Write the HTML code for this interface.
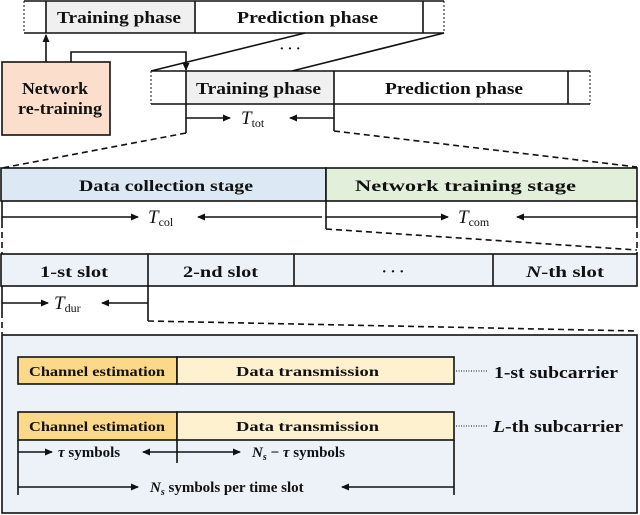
<!DOCTYPE html>
<html><head><meta charset="utf-8"><style>
html,body{margin:0;padding:0;background:#fff;}
svg{display:block;}
text{font-family:"Liberation Serif",serif;font-weight:bold;fill:#111;}
.it{font-style:italic;font-weight:normal;}
</style></head><body>
<svg width="640" height="515" viewBox="0 0 640 515" xmlns="http://www.w3.org/2000/svg">
<defs>
<marker id="a" markerWidth="8" markerHeight="8" refX="7" refY="4" orient="auto" markerUnits="userSpaceOnUse">
<path d="M0,0.5 L8,4 L0,7.5 Z" fill="#111"/></marker>
</defs>
<g stroke="#111" stroke-width="1.6" fill="none">
<rect x="46" y="1" width="149" height="32" fill="#f0f0f0" stroke="none"/>
<line x1="24" y1="1" x2="444" y2="1"/>
<line x1="24" y1="33" x2="444" y2="33"/>
<line x1="24" y1="1" x2="24" y2="33" stroke-dasharray="2,2" stroke-width="1"/>
<line x1="444" y1="1" x2="444" y2="33" stroke-dasharray="2,2" stroke-width="1"/>
<line x1="46" y1="1" x2="46" y2="33"/>
<line x1="195" y1="1" x2="195" y2="33"/>
<line x1="423" y1="1" x2="423" y2="33"/>
<rect x="2" y="62" width="108" height="73" fill="#fbdfcc"/>
<line x1="46" y1="62" x2="46" y2="35" marker-end="url(#a)"/>
<polyline points="71,62 71,52 186,52 186,70" marker-end="url(#a)"/>
<line x1="151" y1="71" x2="305" y2="33"/>
<line x1="292" y1="71" x2="444" y2="33"/>
<rect x="186" y="71" width="148" height="33" fill="#f0f0f0" stroke="none"/>
<line x1="151" y1="71" x2="590" y2="71"/>
<line x1="151" y1="104" x2="590" y2="104"/>
<line x1="151" y1="71" x2="151" y2="104" stroke-dasharray="2,2" stroke-width="1"/>
<line x1="590" y1="71" x2="590" y2="104" stroke-dasharray="2,2" stroke-width="1"/>
<line x1="186" y1="71" x2="186" y2="133"/>
<line x1="334" y1="71" x2="334" y2="131"/>
<line x1="568" y1="71" x2="568" y2="104"/>
<line x1="186" y1="118" x2="230" y2="118" marker-end="url(#a)"/>
<line x1="334" y1="118" x2="290" y2="118" marker-end="url(#a)"/>
<line x1="186" y1="133" x2="2" y2="168" stroke-dasharray="6,4"/>
<line x1="334" y1="131" x2="637" y2="167" stroke-dasharray="6,4"/>
<rect x="1" y="168" width="325" height="33" fill="#dde8f5"/>
<rect x="326" y="168" width="311" height="33" fill="#e2efda"/>
<line x1="2" y1="201" x2="2" y2="222"/>
<line x1="637" y1="201" x2="637" y2="222"/>
<line x1="2" y1="217" x2="138" y2="217" marker-end="url(#a)"/>
<line x1="322" y1="217" x2="198" y2="217" marker-end="url(#a)"/>
<line x1="326" y1="217" x2="448" y2="217" marker-end="url(#a)"/>
<line x1="637" y1="217" x2="517" y2="217" marker-end="url(#a)"/>
<line x1="326" y1="201" x2="326" y2="229"/>
<line x1="326" y1="229" x2="637" y2="250" stroke-dasharray="6,4"/>
<line x1="2" y1="222" x2="2" y2="254" stroke-dasharray="6,4"/>
<line x1="637" y1="222" x2="637" y2="254" stroke-dasharray="6,4"/>
<rect x="1" y="254" width="636" height="32" fill="#edf2f9"/>
<line x1="148" y1="254" x2="148" y2="321"/>
<line x1="294" y1="254" x2="294" y2="286"/>
<line x1="493" y1="254" x2="493" y2="286"/>
<line x1="2" y1="286" x2="2" y2="312"/>
<line x1="2" y1="303" x2="48" y2="303" marker-end="url(#a)"/>
<line x1="148" y1="303" x2="102" y2="303" marker-end="url(#a)"/>
<line x1="148" y1="321" x2="637" y2="331" stroke-dasharray="6,4"/>
<line x1="2" y1="312" x2="2" y2="334" stroke-dasharray="6,4"/>
<rect x="2" y="335" width="635" height="178" fill="#edf2f9"/>
<rect x="18" y="357" width="159" height="27" fill="#fcd988"/>
<rect x="177" y="357" width="277" height="27" fill="#fdf1cf"/>
<rect x="18" y="412" width="159" height="28" fill="#fcd988"/>
<rect x="177" y="412" width="277" height="28" fill="#fdf1cf"/>
<line x1="456" y1="371" x2="488" y2="371" stroke-dasharray="1,1.5" stroke-width="1"/>
<line x1="456" y1="426" x2="488" y2="426" stroke-dasharray="1,1.5" stroke-width="1"/>
<line x1="18" y1="440" x2="18" y2="495"/>
<line x1="177" y1="440" x2="177" y2="463"/>
<line x1="454" y1="440" x2="454" y2="495"/>
<line x1="18" y1="452" x2="52" y2="452" marker-end="url(#a)"/>
<line x1="177" y1="452" x2="143" y2="452" marker-end="url(#a)"/>
<line x1="177" y1="452" x2="240" y2="452" marker-end="url(#a)"/>
<line x1="18" y1="487" x2="138" y2="487" marker-end="url(#a)"/>
<line x1="454" y1="487" x2="342" y2="487" marker-end="url(#a)"/>
</g>
<text x="57" y="23" font-size="17" textLength="124" lengthAdjust="spacingAndGlyphs">Training phase</text>
<text x="237" y="23" font-size="17" textLength="141" lengthAdjust="spacingAndGlyphs">Prediction phase</text>
<text x="22" y="94" font-size="17" textLength="66" lengthAdjust="spacingAndGlyphs">Network</text>
<text x="18" y="114" font-size="17" textLength="84" lengthAdjust="spacingAndGlyphs">re-training</text>
<text x="290" y="53" font-size="14" text-anchor="middle">· · ·</text>
<text x="196" y="94" font-size="17" textLength="125" lengthAdjust="spacingAndGlyphs">Training phase</text>
<text x="385" y="94" font-size="17" textLength="138" lengthAdjust="spacingAndGlyphs">Prediction phase</text>
<text x="241" y="124" font-size="19" class="it">T<tspan font-size="12" font-style="normal" dy="3">tot</tspan></text>
<text x="79" y="191" font-size="16" textLength="174" lengthAdjust="spacingAndGlyphs">Data collection stage</text>
<text x="355" y="191" font-size="16" textLength="221" lengthAdjust="spacingAndGlyphs">Network training stage</text>
<text x="148" y="223" font-size="19" class="it">T<tspan font-size="12" font-style="normal" dy="3">col</tspan></text>
<text x="458" y="223" font-size="19" class="it">T<tspan font-size="12" font-style="normal" dy="3">com</tspan></text>
<text x="40" y="277" font-size="16" textLength="68" lengthAdjust="spacingAndGlyphs">1-st slot</text>
<text x="183" y="277" font-size="16" textLength="75" lengthAdjust="spacingAndGlyphs">2-nd slot</text>
<text x="393" y="276" font-size="15" text-anchor="middle" font-weight="normal">· · ·</text>
<text x="526" y="277" font-size="16" textLength="78" lengthAdjust="spacingAndGlyphs"><tspan font-style="italic">N</tspan>-th slot</text>
<text x="54" y="309" font-size="19" class="it">T<tspan font-size="12" font-style="normal" dy="3">dur</tspan></text>
<text x="29" y="376" font-size="14" textLength="136" lengthAdjust="spacingAndGlyphs">Channel estimation</text>
<text x="236" y="376" font-size="14" font-weight="normal" textLength="143" lengthAdjust="spacingAndGlyphs">Data transmission</text>
<text x="29" y="431" font-size="14" textLength="136" lengthAdjust="spacingAndGlyphs">Channel estimation</text>
<text x="236" y="431" font-size="14" font-weight="normal" textLength="143" lengthAdjust="spacingAndGlyphs">Data transmission</text>
<text x="494" y="378" font-size="17" textLength="124" lengthAdjust="spacingAndGlyphs">1-st subcarrier</text>
<text x="493" y="432" font-size="17" textLength="130" lengthAdjust="spacingAndGlyphs"><tspan font-style="italic">L</tspan>-th subcarrier</text>
<text x="58" y="457" font-size="15" font-weight="normal"><tspan font-style="italic">τ</tspan> symbols</text>
<text x="252" y="457" font-size="15" font-weight="normal"><tspan font-style="italic">N</tspan><tspan font-size="10" font-style="italic" dy="3">s</tspan><tspan dy="-3"> − </tspan><tspan font-style="italic">τ</tspan> symbols</text>
<text x="150" y="492" font-size="15" font-weight="normal"><tspan font-style="italic">N</tspan><tspan font-size="10" font-style="italic" dy="3">s</tspan><tspan dy="-3"> symbols per time slot</tspan></text>
</svg>
</body></html>
